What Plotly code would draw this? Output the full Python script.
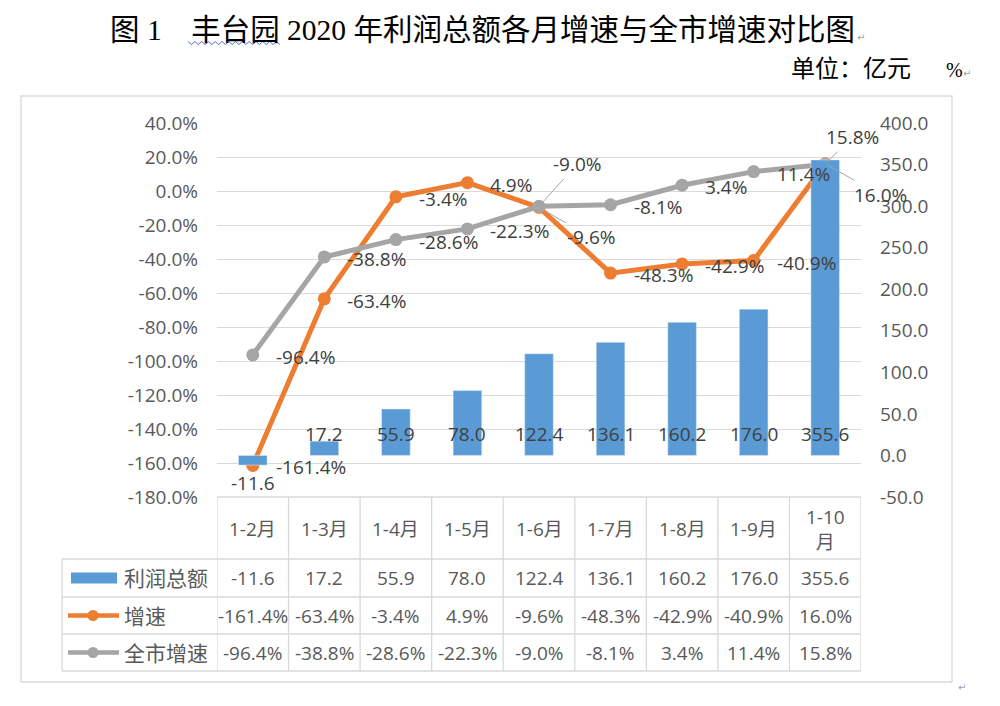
import plotly.graph_objects as go

# ---------------- data ----------------
categories = ["1-2月", "1-3月", "1-4月", "1-5月", "1-6月", "1-7月", "1-8月", "1-9月", "1-10月"]
profit_total = [-11.6, 17.2, 55.9, 78.0, 122.4, 136.1, 160.2, 176.0, 355.6]      # 利润总额 (亿元)
growth = [-161.4, -63.4, -3.4, 4.9, -9.6, -48.3, -42.9, -40.9, 16.0]              # 增速 (%)
city_growth = [-96.4, -38.8, -28.6, -22.3, -9.0, -8.1, 3.4, 11.4, 15.8]           # 全市增速 (%)
series_names = ["利润总额", "增速", "全市增速"]
left_ticks = list(range(-180, 41, 20))
right_ticks = list(range(-50, 401, 50))

# ---------------- style ----------------
BLUE, ORANGE, GRAY = "#5b9bd5", "#ed7d31", "#a5a5a5"
GRID = "#d9d9d9"
TXT = "#595959"
LBL = "#404040"
FONT = "Open Sans, Noto Sans CJK SC, sans-serif"
FS = 19

OFF = 8                      # page body margin
W_FIG, H_FIG = 1000 - 2 * OFF, 706 - 2 * OFF
L, R, T, B = 217, 861, 123, 497   # plot area in window pixels


def px_x(px):
    return (px - L) / (R - L)


def px_y(py):
    return (B - py) / (B - T)


fig = go.Figure()

fig.add_trace(go.Bar(
    x=categories, y=profit_total, name=series_names[0], yaxis="y2",
    marker=dict(color=BLUE), width=0.4, showlegend=False, hoverinfo="skip",
))
fig.add_trace(go.Scatter(
    x=categories, y=growth, name=series_names[1], mode="lines+markers",
    line=dict(color=ORANGE, width=5), marker=dict(color=ORANGE, size=13),
    cliponaxis=False, showlegend=False,
))
fig.add_trace(go.Scatter(
    x=categories, y=city_growth, name=series_names[2], mode="lines+markers",
    line=dict(color=GRAY, width=5), marker=dict(color=GRAY, size=13),
    cliponaxis=False, showlegend=False,
))

ann = []
shapes = []


def text_ann(**kw):
    d = dict(showarrow=False, xanchor="center", yanchor="middle")
    d.update(kw)
    ann.append(d)


# bar data labels
for c, v in zip(categories, profit_total):
    if v >= 0:
        text_ann(x=c, y=0, xref="x", yref="y2", yshift=21, text=f"{v:.1f}",
                 font=dict(size=FS, color=LBL, family=FONT))
    else:
        text_ann(x=c, y=v, xref="x", yref="y2", yshift=-18, text=f"{v:.1f}",
                 font=dict(size=FS, color=LBL, family=FONT))

# line data labels: default to the right; a few moved with leader lines
moved = {
    (1, 4): (52, 30),
    (1, 8): (55, 31),
    (2, 4): (38, -42),
    (2, 8): (27, -27),
}
for si, vals in ((1, growth), (2, city_growth)):
    for i, (c, v) in enumerate(zip(categories, vals)):
        txt = f"{v:.1f}%"
        if (si, i) in moved:
            dx, dy = moved[(si, i)]
            ann.append(dict(x=c, y=v, xref="x", yref="y", text=txt, showarrow=True,
                            arrowhead=0, arrowwidth=1, arrowcolor="#a6a6a6", ax=dx, ay=dy,
                            standoff=2, font=dict(size=FS, color=LBL, family=FONT)))
        else:
            text_ann(x=c, y=v, xref="x", yref="y", text=txt, xanchor="left", xshift=21, yshift=-2,
                     font=dict(size=FS, color=LBL, family=FONT))

# ---------------- data table ----------------
row_edges = [497, 559, 597, 634, 671]
tbl_left = 62
line_style = dict(color=GRID, width=1.3)
for py in row_edges[1:]:
    shapes.append(dict(type="line", xref="paper", yref="paper",
                       x0=px_x(tbl_left), x1=1, y0=px_y(py), y1=px_y(py), line=line_style, layer="above"))
shapes.append(dict(type="line", xref="paper", yref="paper",
                   x0=0, x1=1, y0=px_y(row_edges[0]), y1=px_y(row_edges[0]), line=line_style))
for i in range(len(categories) + 1):
    shapes.append(dict(type="line", xref="x", yref="paper", x0=i - 0.5, x1=i - 0.5,
                       y0=px_y(row_edges[0]), y1=px_y(row_edges[-1]), line=line_style))
shapes.append(dict(type="line", xref="paper", yref="paper", x0=px_x(tbl_left), x1=px_x(tbl_left),
                   y0=px_y(row_edges[1]), y1=px_y(row_edges[-1]), line=line_style))

row_centers = [(row_edges[k] + row_edges[k + 1]) / 2 for k in range(4)]
# header
for c in categories:
    disp = c if len(c) <= 4 else c.replace("月", "<br>月")
    text_ann(x=c, y=px_y(row_centers[0] + 1), xref="x", yref="paper", text=disp,
             font=dict(size=FS, color=TXT, family=FONT))
rows = [
    [f"{v:.1f}" for v in profit_total],
    [f"{v:.1f}%" for v in growth],
    [f"{v:.1f}%" for v in city_growth],
]
for k, vals in enumerate(rows):
    for c, t in zip(categories, vals):
        text_ann(x=c, y=px_y(row_centers[k + 1]), xref="x", yref="paper", text=t,
                 font=dict(size=FS, color=TXT, family=FONT))
    text_ann(x=px_x(122), y=px_y(row_centers[k + 1]), xref="paper", yref="paper",
             text=series_names[k], xanchor="left", font=dict(size=21, color=TXT, family=FONT))

# legend keys in table
yc1 = row_centers[1]
shapes.append(dict(type="rect", xref="paper", yref="paper", x0=px_x(71), x1=px_x(117),
                   y0=px_y(yc1 + 5.5), y1=px_y(yc1 - 5.5), fillcolor=BLUE, line=dict(width=0)))
for k, col in ((2, ORANGE), (3, GRAY)):
    yc = row_centers[k]
    shapes.append(dict(type="line", xref="paper", yref="paper", x0=px_x(68), x1=px_x(119),
                       y0=px_y(yc), y1=px_y(yc), line=dict(color=col, width=4.5)))
    shapes.append(dict(type="circle", xref="paper", yref="paper", x0=px_x(87.5), x1=px_x(98.5),
                       y0=px_y(yc + 5.5), y1=px_y(yc - 5.5), fillcolor=col, line=dict(width=0)))

# chart border
shapes.append(dict(type="rect", xref="paper", yref="paper", x0=px_x(21), x1=px_x(952),
                   y0=px_y(682), y1=px_y(96), line=dict(color=GRID, width=1.3), layer="below"))

# ---------------- title & unit ----------------
SERIF = "Liberation Serif, Noto Sans CJK SC, serif"
text_ann(x=px_x(108), y=px_y(30), xref="paper", yref="paper", xanchor="left",
         text="图 1　丰台园 2020 年利润总额各月增速与全市增速对比图",
         font=dict(size=29.5, color="#000000", family=SERIF))
text_ann(x=px_x(855), y=px_y(38), xref="paper", yref="paper", xanchor="left",
         text="↵", font=dict(size=10, color="#a0a0a0", family="DejaVu Sans"))
text_ann(x=px_x(789), y=px_y(69), xref="paper", yref="paper", xanchor="left",
         text="单位：亿元", font=dict(size=24, color="#000000", family=SERIF))
text_ann(x=px_x(944), y=px_y(70), xref="paper", yref="paper", xanchor="left",
         text="%", font=dict(size=20, color="#000000", family="Liberation Serif, serif"))
text_ann(x=px_x(961), y=px_y(74), xref="paper", yref="paper", xanchor="left",
         text="↵", font=dict(size=10, color="#a0a0a0", family="DejaVu Sans"))
text_ann(x=px_x(956), y=px_y(687), xref="paper", yref="paper", xanchor="left",
         text="↵", font=dict(size=10, color="#a0a0a0", family="DejaVu Sans"))

# wavy underline under 丰台园
pts = []
x = 188.0
k = 0
while x <= 282:
    pts.append((x, 41.5 if k % 2 == 0 else 44.5))
    x += 3.4
    k += 1
path = "M " + " L ".join(f"{px_x(a):.5f},{px_y(b):.5f}" for a, b in pts)
shapes.append(dict(type="path", xref="paper", yref="paper", path=path,
                   line=dict(color="#4a6ee0", width=1)))

fig.update_layout(
    width=W_FIG, height=H_FIG, autosize=False,
    margin=dict(l=L - OFF, r=W_FIG - (R - OFF), t=T - OFF, b=H_FIG - (B - OFF), pad=0),
    paper_bgcolor="white", plot_bgcolor="white",
    font=dict(family=FONT, size=FS, color=TXT),
    bargap=0.6,
    xaxis=dict(type="category", range=[-0.5, len(categories) - 0.5], showticklabels=False,
               showgrid=False, zeroline=False, showline=False, ticks=""),
    yaxis=dict(range=[-180, 40], tickvals=left_ticks, ticktext=[f"{v:.1f}%" for v in left_ticks],
               showgrid=True, gridcolor=GRID, gridwidth=1.3, zeroline=False, showline=False,
               ticks="", ticklabelstandoff=18, tickfont=dict(size=FS, color=TXT)),
    yaxis2=dict(range=[-50, 400], tickvals=right_ticks, ticktext=[f"{v:.1f}" for v in right_ticks],
                overlaying="y", side="right", showgrid=False, zeroline=False, showline=False,
                ticks="", ticklabelstandoff=18, tickfont=dict(size=FS, color=TXT)),
    annotations=ann,
    shapes=shapes,
)

fig.write_html("out.html")
